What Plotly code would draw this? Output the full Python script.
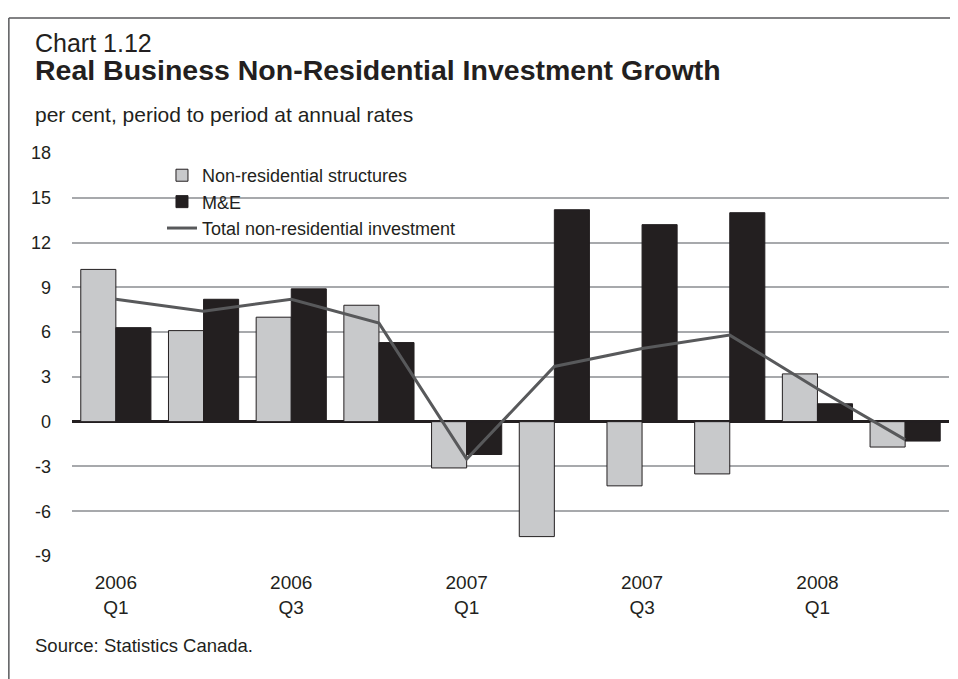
import plotly.graph_objects as go

# ---- data ----
quarters = ['2006 Q1', '2006 Q2', '2006 Q3', '2006 Q4',
            '2007 Q1', '2007 Q2', '2007 Q3', '2007 Q4',
            '2008 Q1', '2008 Q2']
structures = [10.2, 6.1, 7.0, 7.8, -3.1, -7.7, -4.3, -3.5, 3.2, -1.7]
machinery = [6.3, 8.2, 8.9, 5.3, -2.2, 14.2, 13.2, 14.0, 1.2, -1.3]
total = [8.2, 7.4, 8.2, 6.6, -2.5, 3.7, 4.9, 5.8, 2.2, -1.2]

tick_vals = ['2006 Q1', '2006 Q3', '2007 Q1', '2007 Q3', '2008 Q1']
tick_text = ['2006<br>Q1', '2006<br>Q3', '2007<br>Q1', '2007<br>Q3', '2008<br>Q1']
y_vals = [-9, -6, -3, 0, 3, 6, 9, 12, 15, 18]
y_text = ['-9', '-6', '-3', '0', '3', '6', '9', '12', '15', '18']

FONT = 'Liberation Sans, Arial, sans-serif'
INK = '#231f20'

fig = go.Figure()

fig.add_trace(go.Bar(
    x=quarters, y=structures, name='Non-residential structures',
    marker=dict(color='#c8c9cb', line=dict(color=INK, width=1))
))
fig.add_trace(go.Bar(
    x=quarters, y=machinery, name='M&E',
    marker=dict(color=INK, line=dict(color=INK, width=1))
))
fig.add_trace(go.Scatter(
    x=quarters, y=total, name='Total non-residential investment',
    mode='lines', line=dict(color='#58595b', width=3)
))

# the page is drawn with an 8px body margin, so everything is shifted by 8px
fig.update_layout(
    width=958, height=679,
    margin=dict(l=64, r=17, t=145, b=131),
    paper_bgcolor='white', plot_bgcolor='white',
    font=dict(family=FONT, size=19, color=INK),
    barmode='group', bargap=0.2, bargroupgap=0,
    showlegend=True,
    legend=dict(
        x=0.1026, y=0.99, xanchor='left', yanchor='top',
        bgcolor='rgba(0,0,0,0)', font=dict(size=18, color=INK),
        traceorder='normal', itemwidth=30
    ),
)

fig.update_xaxes(
    type='category', tickmode='array', tickvals=tick_vals, ticktext=tick_text,
    showgrid=False, showline=False, ticks='', ticklabelstandoff=13,
    tickfont=dict(size=19, color=INK)
)
fig.update_yaxes(
    range=[-9, 18], tickmode='array', tickvals=y_vals, ticktext=y_text,
    showgrid=True, gridcolor='#a7a9ac', gridwidth=1.5,
    zeroline=True, zerolinecolor=INK, zerolinewidth=3,
    showline=False, ticks='', ticklabelstandoff=20,
    tickfont=dict(size=18, color=INK)
)

# white patch behind the legend that hides the 15 gridline
fig.add_shape(type='rect', xref='paper', yref='y', layer='between',
              x0=0.0764, x1=0.4766, y0=13.8, y1=16.5,
              fillcolor='white', line=dict(width=0))

# titles / notes
fig.add_annotation(text='Chart 1.12', xref='paper', yref='paper',
                   x=-0.045, y=1.272, xanchor='left', yanchor='middle',
                   showarrow=False, font=dict(size=25, color=INK))
fig.add_annotation(text='<b>Real Business Non-Residential Investment Growth</b>',
                   xref='paper', yref='paper', x=-0.045, y=1.207,
                   xanchor='left', yanchor='middle', showarrow=False,
                   font=dict(size=28.5, color=INK))
fig.add_annotation(text='per cent, period to period at annual rates',
                   xref='paper', yref='paper', x=-0.045, y=1.095,
                   xanchor='left', yanchor='middle', showarrow=False,
                   font=dict(size=21, color=INK))
fig.add_annotation(text='Source: Statistics Canada.',
                   xref='paper', yref='paper', x=-0.045, y=-0.222,
                   xanchor='left', yanchor='middle', showarrow=False,
                   font=dict(size=18.5, color=INK))

# frame lines (top and left edges)
fig.add_shape(type='line', xref='paper', yref='paper',
              x0=-0.072, x1=1.03, y0=1.335, y1=1.335,
              line=dict(color='#58595b', width=1.5))
fig.add_shape(type='line', xref='paper', yref='paper',
              x0=-0.072, x1=-0.072, y0=1.335, y1=-0.35,
              line=dict(color='#58595b', width=1.5))

fig.write_html('out.html')
